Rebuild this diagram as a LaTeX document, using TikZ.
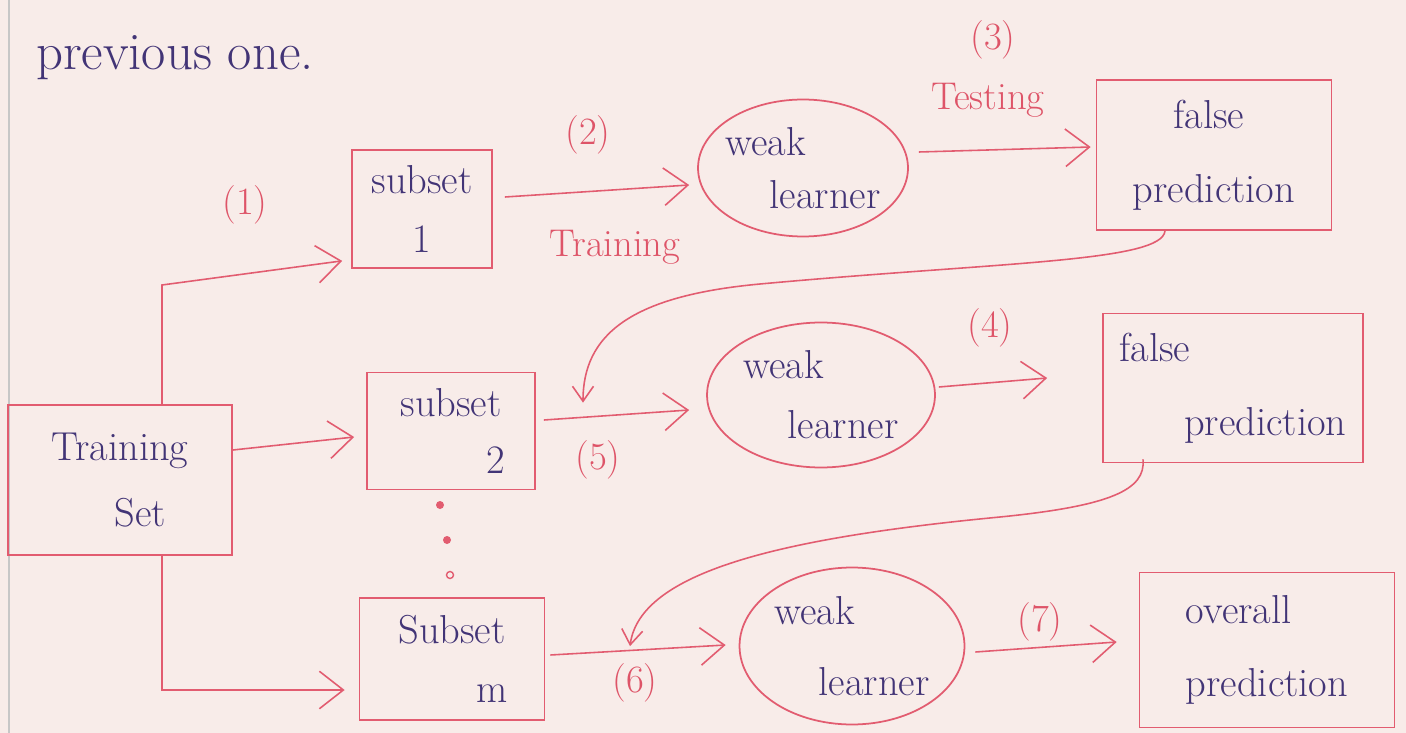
\documentclass[tikz,border=0pt]{standalone}
\usetikzlibrary{arrows.meta,shapes.geometric}
\definecolor{paper}{RGB}{248,236,233}
\definecolor{redline}{RGB}{226,92,112}
\definecolor{redtext}{RGB}{222,84,104}
\definecolor{ink}{RGB}{66,52,118}
\begin{document}
\begin{tikzpicture}[x=0.02cm,y=-0.02cm,
  hand/.style={font=\fontsize{23}{30}\selectfont},
  box/.style={draw=redline, line width=1pt, inner sep=0pt, text=ink, hand, align=center},
  learner/.style={ellipse, draw=redline, line width=1pt, inner sep=-14pt, text=ink, hand, align=left},
  lbl/.style={text=redtext, font=\fontsize{22}{26}\selectfont, inner sep=1pt},
  link/.style={draw=redline, line width=0.9pt, -{Straight Barb[length=0.48cm,width=0.75cm]}},
  smalllink/.style={draw=redline, line width=0.9pt, -{Straight Barb[length=0.3cm,width=0.42cm]}}
]
% paper
\fill[paper] (0,0) rectangle (1406,733);
\useasboundingbox (0,0) rectangle (1406,733);
\draw[black!22, line width=0.6pt] (9,0) -- (9,733);

% heading
\node[text=ink, font=\fontsize{30}{34}\selectfont, anchor=west] (head) at (30,58) {previous one.};

% data boxes
\node[box, minimum width=4.48cm, minimum height=3cm] (train) at (120,480)
  {Training\\[8pt]\hspace*{1em}Set};
\node[box, minimum width=2.8cm, minimum height=2.36cm] (s1) at (422,209)
  {subset\\[4pt]1};
\node[box, minimum width=3.36cm, minimum height=2.34cm] (s2) at (451,431)
  {subset\\[2pt]\hspace*{2.2em}2};
\node[box, minimum width=3.7cm, minimum height=2.44cm] (sm) at (452,659)
  {Subset\\[4pt]\hspace*{2em}m};

% learners
\node[learner, minimum width=4.2cm, minimum height=2.74cm] (wl1) at (803,168)
  {weak\\\hspace*{1.1em}learner};
\node[learner, minimum width=4.56cm, minimum height=2.9cm] (wl2) at (821,395)
  {weak\\[4pt]\hspace*{1.1em}learner};
\node[learner, minimum width=4.5cm, minimum height=3.14cm] (wl3) at (852,646)
  {weak\\[10pt]\hspace*{1.1em}learner};

% predictions
\node[box, minimum width=4.7cm, minimum height=3cm, align=left] (fp1) at (1214,155)
  {\hspace*{1em}false\\[12pt]prediction};
\node[box, minimum width=5.2cm, minimum height=2.98cm, align=left] (fp2) at (1233,388)
  {false\\[12pt]\hspace*{1.6em}prediction};
\node[box, minimum width=5.1cm, minimum height=3.1cm, align=left] (op) at (1267,650)
  {overall\\[12pt]prediction};

% dots between subsets
\fill[redline] (440,505) circle (0.08cm);
\fill[redline] (447,540) circle (0.08cm);
\draw[redline, line width=0.8pt] (450,575) circle (0.07cm);

% step labels
\node[lbl] (n1) at (245,205) {(1)};
\node[lbl] (n2) at (588,135) {(2)};
\node[lbl] (tr) at (615,247) {Training};
\node[lbl] (n3) at (993,40) {(3)};
\node[lbl] (te) at (988,100) {Testing};
\node[lbl] (n4) at (990,328) {(4)};
\node[lbl] (n5) at (598,460) {(5)};
\node[lbl] (n6) at (635,683) {(6)};
\node[lbl] (n7) at (1040,622) {(7)};

% splitting the training set
\coordinate (j1) at (162,285);
\coordinate (j3) at (162,690);
\draw[link] (train.north -| j1) -- (j1) -- ([shift={(-9,-8)}]s1.south west);
\draw[link] (train.east |- 0,450) -- ([shift={(-12,6)}]s2.west);
\draw[link] (train.south -| j3) -- (j3) -- ([shift={(-14,31)}]sm.west);

% training the learners
\draw[link] ([shift={(12,-12)}]s1.east) -- ([shift={(-8,17)}]wl1.west);
\draw[link] ([shift={(8,-11)}]s2.east) -- ([shift={(-17,15)}]wl2.west);
\draw[link] ([shift={(5,-4)}]sm.east) -- ([shift={(-13,-1)}]wl3.west);

% testing
\draw[link] ([shift={(10,-16)}]wl1.east) -- ([shift={(-5,-8)}]fp1.west);
\draw[link] ([shift={(3,-8)}]wl2.east) -- ([shift={(-55,-10)}]fp2.west);
\draw[link] ([shift={(10,6)}]wl3.east) -- ([shift={(-22,-8)}]op.west);

% feeding false predictions back
\draw[smalllink] ([shift={(-49,0)}]fp1.south)
  .. controls (1162,262) and (1000,262) .. (760,284)
  .. controls (630,296) and (583,335) .. ([shift={(132,31)}]s2.north);
\draw[smalllink] ([shift={(-90,-4)}]fp2.south)
  .. controls (1146,490) and (1110,506) .. (1000,517)
  .. controls (780,538) and (640,572) .. ([shift={(178,49)}]sm.north);
\end{tikzpicture}
\end{document}
